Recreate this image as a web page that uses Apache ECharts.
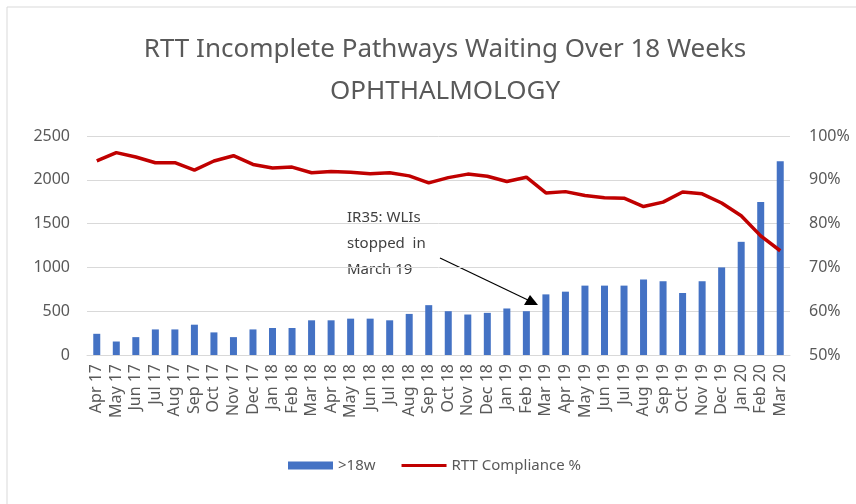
<!DOCTYPE html>
<html>
<head>
<meta charset="utf-8">
<script src="https://cdn.jsdelivr.net/npm/echarts@6/dist/echarts.min.js"></script>
<style>
  html, body { margin: 0; padding: 0; background: #fff; }
</style>
</head>
<body>
<div id="main" style="width:856px;height:504px;"></div>
<script>
var months = ["Apr 17", "May 17", "Jun 17", "Jul 17", "Aug 17", "Sep 17", "Oct 17", "Nov 17", "Dec 17",
  "Jan 18", "Feb 18", "Mar 18", "Apr 18", "May 18", "Jun 18", "Jul 18", "Aug 18", "Sep 18", "Oct 18",
  "Nov 18", "Dec 18", "Jan 19", "Feb 19", "Mar 19", "Apr 19", "May 19", "Jun 19", "Jul 19", "Aug 19",
  "Sep 19", "Oct 19", "Nov 19", "Dec 19", "Jan 20", "Feb 20", "Mar 20"];

// >18 weeks waiting (left axis)
var over18w = [242, 154, 204, 292, 292, 346, 258, 204, 292,
  308, 308, 396, 396, 415, 415, 396, 469, 569, 500,
  462, 481, 531, 500, 692, 723, 792, 792, 792, 862,
  842, 708, 842, 1000, 1292, 1746, 2212];

// RTT compliance % (right axis)
var compliance = [94.3, 96.2, 95.2, 93.9, 93.9, 92.2, 94.3, 95.5, 93.5,
  92.7, 92.9, 91.6, 91.9, 91.7, 91.4, 91.6, 90.9, 89.3, 90.5,
  91.3, 90.8, 89.6, 90.6, 87.0, 87.3, 86.4, 85.9, 85.8, 83.9,
  84.9, 87.2, 86.8, 84.7, 81.8, 77.2, 73.8];

var txt = "#595959";
var font = "Noto Sans";

var myChart = echarts.init(document.getElementById("main"));
var option = {
  animation: false,
  textStyle: { fontFamily: font },
  title: {
    text: "RTT Incomplete Pathways Waiting Over 18 Weeks\nOPHTHALMOLOGY",
    left: 440,
    textAlign: "center",
    top: 24,
    textStyle: { fontFamily: font, fontSize: 26, fontWeight: "normal", color: txt, lineHeight: 42 }
  },
  legend: {
    bottom: 26,
    left: 283,
    itemGap: 26,
    itemWidth: 45,
    itemHeight: 8,
    textStyle: { fontSize: 15, color: txt },
    data: [
      { name: ">18w", icon: "rect" },
      { name: "RTT Compliance %", icon: "path://M0,0 L45,0 L45,3 L0,3 Z" }
    ]
  },
  grid: { left: 87, right: 66, top: 136, bottom: 149 },
  xAxis: [{
    type: "category",
    data: months,
    axisLine: { lineStyle: { color: "#d9d9d9" } },
    axisTick: { lineStyle: { color: "#d9d9d9" }, length: 6 },
    axisLabel: { rotate: 90, interval: 0, fontSize: 16, color: txt, margin: 9 }
  }],
  yAxis: [{
    type: "value",
    min: 0,
    max: 2500,
    interval: 500,
    axisLabel: { fontSize: 16, color: txt, margin: 17, formatter: function (v) { return String(v); } },
    splitLine: { lineStyle: { color: "#d9d9d9" } }
  }, {
    type: "value",
    min: 50,
    max: 100,
    interval: 10,
    axisLabel: { fontSize: 16, color: txt, margin: 19, formatter: "{value}%" },
    splitLine: { show: false }
  }],
  series: [{
    name: ">18w",
    type: "bar",
    data: over18w,
    barWidth: 7,
    itemStyle: { color: "#4472C4" }
  }, {
    name: "RTT Compliance %",
    type: "line",
    yAxisIndex: 1,
    data: compliance,
    symbol: "none",
    lineStyle: { color: "#C00000", width: 3.5 },
    itemStyle: { color: "#C00000" }
  }],
  graphic: [
    {
      type: "rect",
      shape: { x: 7, y: 7, width: 860, height: 520 },
      style: { fill: "none", stroke: "#d9d9d9", lineWidth: 1 },
      silent: true
    },
    {
      type: "text",
      left: 347,
      top: 205,
      style: {
        text: "IR35: WLIs\nstopped  in\nMarch 19",
        fontFamily: font,
        fontSize: 15,
        lineHeight: 26,
        fill: "#404040"
      }
    },
    {
      type: "line",
      shape: { x1: 440, y1: 258, x2: 530, y2: 301 },
      style: { stroke: "#000", lineWidth: 1.2 }
    },
    {
      type: "polygon",
      shape: { points: [[538, 305], [524, 305], [530, 295]] },
      style: { fill: "#000" }
    }
  ]
};
myChart.setOption(option);
</script>
</body>
</html>
